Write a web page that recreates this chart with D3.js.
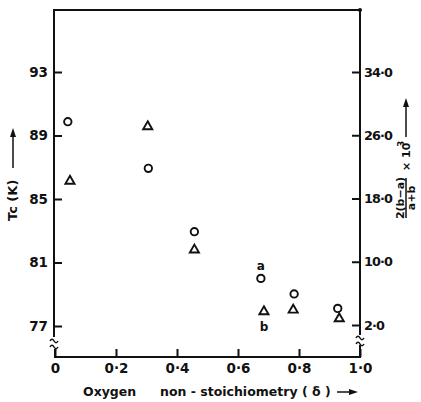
<!DOCTYPE html>
<html>
<head>
<meta charset="utf-8">
<script src="https://cdn.jsdelivr.net/npm/d3@7"></script>
<style>
body { margin: 0; background: #fff; }
text { font-family: "DejaVu Sans", sans-serif; font-weight: bold; fill: #111; }
</style>
</head>
<body>
<svg id="chart"></svg>
<script>
var w = 421, h = 402;

// data
var delta_tc = [0.042, 0.306, 0.457, 0.675, 0.784, 0.927];
var tc = [89.87, 86.93, 82.94, 80.0, 79.02, 78.11];
var delta_dist = [0.049, 0.304, 0.457, 0.685, 0.781, 0.932];
var dist = [20.2, 27.1, 11.5, 3.7, 3.9, 2.8];

var x_ticks = [0, 0.2, 0.4, 0.6, 0.8, 1.0];
var tc_ticks = [77, 81, 85, 89, 93];
var dist_ticks = [2, 10, 18, 26, 34];

var left = 54, right = 360, top_y = 10, bottom = 357;

var svg = d3.select("#chart").attr("width", w).attr("height", h);

var x = d3.scaleLinear().domain([0, 1]).range([55, right]);
var y_tc = d3.scaleLinear().domain([77, 93]).range([326, 72]);
var y_dist = d3.scaleLinear().domain([2, 34]).range([325, 72]);

var dot = function(v){ return v.toFixed(1).replace(".", "\u00b7"); };

// axes (ticks inward, domain lines drawn by hand for the breaks)
var gx = svg.append("g").attr("transform", "translate(0," + bottom + ")")
	.call(d3.axisBottom(x).tickValues(x_ticks).tickSize(-8).tickPadding(6)
		.tickFormat(function(d){ return d == 0 ? "0" : dot(d); }));
var gl = svg.append("g").attr("transform", "translate(" + left + ",0)")
	.call(d3.axisLeft(y_tc).tickValues(tc_ticks).tickSize(-8).tickPadding(6));
var gr = svg.append("g").attr("transform", "translate(" + right + ",0)")
	.call(d3.axisRight(y_dist).tickValues(dist_ticks).tickSize(-8).tickPadding(4).tickFormat(dot));

[gx, gl, gr].forEach(function(g){
	g.select(".domain").remove();
	g.selectAll(".tick line").attr("stroke", "#111").attr("stroke-width", 2);
	g.selectAll(".tick text").style("font-family", "DejaVu Sans").style("font-weight", "bold")
		.style("font-size", "13.5px").attr("fill", "#111");
});
gr.selectAll(".tick text").style("font-size", "12.8px").style("letter-spacing", "-0.9px");

var ax = svg.append("g").attr("stroke", "#111").attr("stroke-width", 2).attr("fill", "none");
ax.append("path").attr("d", "M" + left + "," + 337 + "V" + top_y + "H" + right + "V" + 335);
ax.append("path").attr("d", "M" + 55 + ",349V" + bottom + "H" + right + "V345");
svg.append("circle").attr("cx", right).attr("cy", top_y).attr("r", 2).attr("fill", "#111");

// axis break squiggles
var squiggle = function(cx, cy){
	ax.append("path").attr("stroke-width", 1.5)
		.attr("d", "M" + (cx - 4) + "," + (cy + 1) + "q2,-3.5 4,0t4,0");
};
squiggle(left, 340); squiggle(left, 346);
squiggle(right, 337); squiggle(right, 343);

// markers
svg.append("g").selectAll("circle").data(tc).join("circle")
	.attr("cx", function(d, i){ return x(delta_tc[i]); })
	.attr("cy", function(d){ return y_tc(d); })
	.attr("r", 3.7).attr("fill", "none").attr("stroke", "#111").attr("stroke-width", 1.9);

var tri = d3.symbol().type(d3.symbolTriangle).size(36);
svg.append("g").selectAll("path").data(dist).join("path")
	.attr("transform", function(d, i){ return "translate(" + x(delta_dist[i]) + "," + y_dist(d) + ")"; })
	.attr("d", tri).attr("fill", "none").attr("stroke", "#111").attr("stroke-width", 1.9);

svg.append("text").attr("x", x(0.675)).attr("y", 270).attr("text-anchor", "middle")
	.style("font-size", "12px").text("a");
svg.append("text").attr("x", x(0.685)).attr("y", 331).attr("text-anchor", "middle")
	.style("font-size", "12px").text("b");

// x title
svg.append("text").attr("x", 83).attr("y", 396).style("font-size", "12.5px")
	.text("Oxygen");
svg.append("text").attr("x", 160).attr("y", 396).style("font-size", "12.5px")
	.text("non - stoichiometry ( \u03b4 )");
var arrows = svg.append("g").attr("stroke", "#111").attr("stroke-width", 1.5);
arrows.append("line").attr("x1", 337).attr("y1", 392).attr("x2", 351).attr("y2", 392);
svg.append("path").attr("d", "M358,392L349,389L349,395Z").attr("fill", "#111");

// left title
svg.append("text").attr("transform", "translate(17,221) rotate(-90)")
	.style("font-size", "13px").text("Tc (K)");
arrows.append("line").attr("x1", 13).attr("y1", 168).attr("x2", 13).attr("y2", 135);
svg.append("path").attr("d", "M13,128L10,137L16,137Z").attr("fill", "#111");

// right title
var rt = svg.append("g").attr("transform", "rotate(-90)");
rt.append("text").attr("x", -198).attr("y", 404).attr("text-anchor", "middle")
	.style("font-size", "11px").text("2(b\u2212a)");
rt.append("line").attr("x1", -218).attr("x2", -178).attr("y1", 406).attr("y2", 406)
	.attr("stroke", "#111").attr("stroke-width", 1.5);
rt.append("text").attr("x", -198).attr("y", 415).attr("text-anchor", "middle")
	.style("font-size", "11px").text("a+b");
rt.append("text").attr("x", -171).attr("y", 410).style("font-size", "11px").text("\u00d7 10");
rt.append("text").attr("x", -147).attr("y", 404).style("font-size", "9px").text("3");
arrows.append("line").attr("x1", 406).attr("y1", 137).attr("x2", 406).attr("y2", 106);
svg.append("path").attr("d", "M406,98L403,107L409,107Z").attr("fill", "#111");
</script>
</body>
</html>
